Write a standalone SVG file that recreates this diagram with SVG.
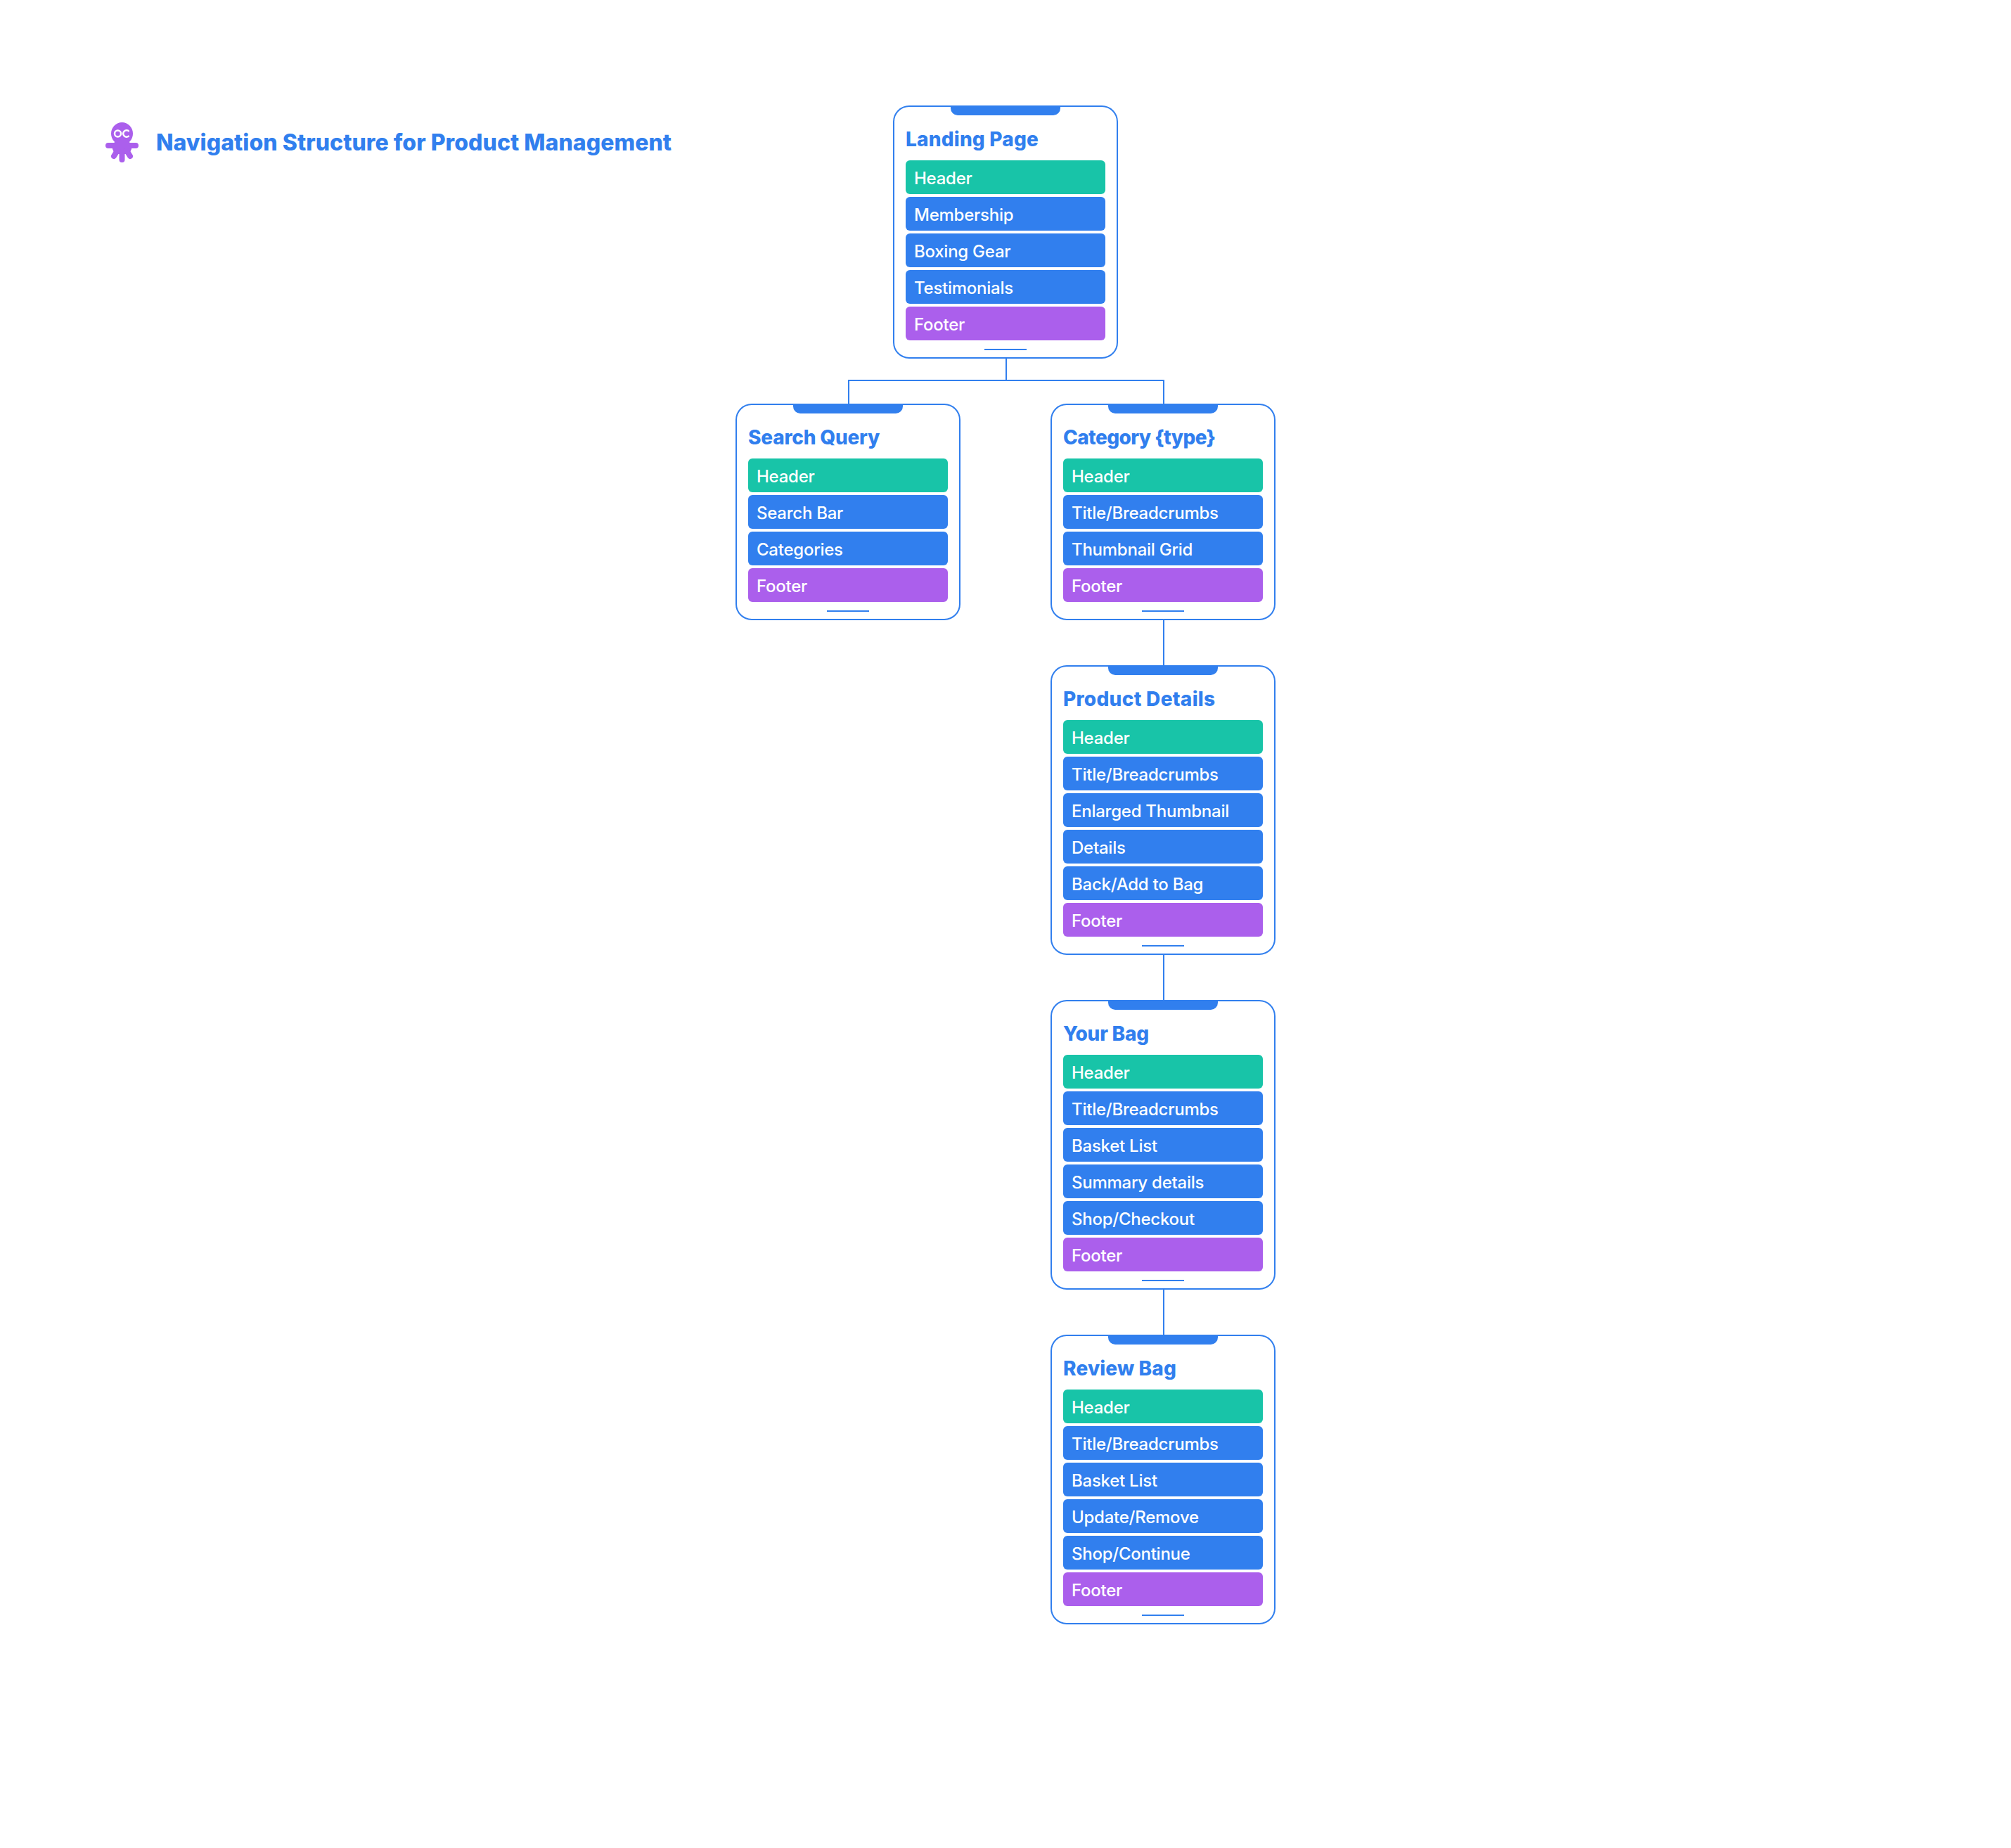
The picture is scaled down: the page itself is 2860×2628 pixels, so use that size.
<svg xmlns="http://www.w3.org/2000/svg" width="2860" height="2628" viewBox="0 0 2860 2628">
<style>
text{font-family:Inter,"Liberation Sans",sans-serif}
.card{fill:#fff;stroke:#317fee;stroke-width:2}
.notch{fill:#317fee}
.bar{stroke:#317fee;stroke-width:2}
.t{font-size:28px;font-weight:800;fill:#317fee}
.l{font-size:24px;font-weight:500;fill:#fff;letter-spacing:-.25px}
.h{fill:#18c4a8}.b{fill:#317fee}.f{fill:#ab5fec}
.conn{fill:none;stroke:#317fee;stroke-width:2}
</style>
<defs>
<path id="n" class="notch" d="M0 0H156V4a10 10 0 0 1-10 10H10A10 10 0 0 1 0 4Z"/>
</defs>
<rect width="2860" height="2628" fill="#fff"/>
<g id="logo">
<ellipse cx="173.500" cy="190" rx="15.500" ry="16" fill="#ab5fec"/>
<path fill="#ab5fec" d="M163 198Q165 203 159 205L160 212Q161 216 165 219H182Q186 216 187 212L188 205Q182 203 184 198Z"/>
<path d="M154 207H193M167 214L162 222M180 214L185 222M173.500 216V227" fill="none" stroke="#ab5fec" stroke-width="8" stroke-linecap="round"/>
<circle cx="167.500" cy="190" r="4.500" fill="none" stroke="#fff" stroke-width="2.500"/>
<path d="M183.500 187a4.700 4.700 0 1 0 0 6" fill="none" stroke="#fff" stroke-width="2.500"/>
</g>
<text id="title" x="222" y="214" font-size="32" font-weight="800" letter-spacing=".05" fill="#317fee">Navigation Structure for Product Management</text>
<g id="connectors">
<path class="conn" d="M1431 509V541M1207 575V541H1655V575"/>
<path class="conn" d="M1655 881V947M1655 1357V1423M1655 1833V1899"/>
</g>
<g id="landing">
<rect class="card" x="1271" y="151" width="318" height="358" rx="22"/>
<use href="#n" x="1352" y="150"/>
<text class="t" x="1288" y="208" letter-spacing=".2">Landing Page</text>
<rect class="h" x="1288" y="228" width="284" height="48" rx="6"/><text class="l" x="1300" y="262">Header</text>
<rect class="b" x="1288" y="280" width="284" height="48" rx="6"/><text class="l" x="1300" y="314">Membership</text>
<rect class="b" x="1288" y="332" width="284" height="48" rx="6"/><text class="l" x="1300" y="366">Boxing Gear</text>
<rect class="b" x="1288" y="384" width="284" height="48" rx="6"/><text class="l" x="1300" y="418">Testimonials</text>
<rect class="f" x="1288" y="436" width="284" height="48" rx="6"/><text class="l" x="1300" y="470">Footer</text>
<line class="bar" x1="1400" x2="1460" y1="497" y2="497"/>
</g>
<g id="search">
<rect class="card" x="1047" y="575" width="318" height="306" rx="22"/>
<use href="#n" x="1128" y="574"/>
<text class="t" x="1064" y="632" letter-spacing="-.2">Search Query</text>
<rect class="h" x="1064" y="652" width="284" height="48" rx="6"/><text class="l" x="1076" y="686">Header</text>
<rect class="b" x="1064" y="704" width="284" height="48" rx="6"/><text class="l" x="1076" y="738">Search Bar</text>
<rect class="b" x="1064" y="756" width="284" height="48" rx="6"/><text class="l" x="1076" y="790">Categories</text>
<rect class="f" x="1064" y="808" width="284" height="48" rx="6"/><text class="l" x="1076" y="842">Footer</text>
<line class="bar" x1="1176" x2="1236" y1="869" y2="869"/>
</g>
<g id="category">
<rect class="card" x="1495" y="575" width="318" height="306" rx="22"/>
<use href="#n" x="1576" y="574"/>
<text class="t" x="1512" y="632" letter-spacing="-.6">Category {type}</text>
<rect class="h" x="1512" y="652" width="284" height="48" rx="6"/><text class="l" x="1524" y="686">Header</text>
<rect class="b" x="1512" y="704" width="284" height="48" rx="6"/><text class="l" x="1524" y="738">Title/Breadcrumbs</text>
<rect class="b" x="1512" y="756" width="284" height="48" rx="6"/><text class="l" x="1524" y="790">Thumbnail Grid</text>
<rect class="f" x="1512" y="808" width="284" height="48" rx="6"/><text class="l" x="1524" y="842">Footer</text>
<line class="bar" x1="1624" x2="1684" y1="869" y2="869"/>
</g>
<g id="product">
<rect class="card" x="1495" y="947" width="318" height="410" rx="22"/>
<use href="#n" x="1576" y="946"/>
<text class="t" x="1512" y="1004" letter-spacing=".3">Product Details</text>
<rect class="h" x="1512" y="1024" width="284" height="48" rx="6"/><text class="l" x="1524" y="1058">Header</text>
<rect class="b" x="1512" y="1076" width="284" height="48" rx="6"/><text class="l" x="1524" y="1110">Title/Breadcrumbs</text>
<rect class="b" x="1512" y="1128" width="284" height="48" rx="6"/><text class="l" x="1524" y="1162">Enlarged Thumbnail</text>
<rect class="b" x="1512" y="1180" width="284" height="48" rx="6"/><text class="l" x="1524" y="1214">Details</text>
<rect class="b" x="1512" y="1232" width="284" height="48" rx="6"/><text class="l" x="1524" y="1266">Back/Add to Bag</text>
<rect class="f" x="1512" y="1284" width="284" height="48" rx="6"/><text class="l" x="1524" y="1318">Footer</text>
<line class="bar" x1="1624" x2="1684" y1="1345" y2="1345"/>
</g>
<g id="bag">
<rect class="card" x="1495" y="1423" width="318" height="410" rx="22"/>
<use href="#n" x="1576" y="1422"/>
<text class="t" x="1512" y="1480" letter-spacing="-.2">Your Bag</text>
<rect class="h" x="1512" y="1500" width="284" height="48" rx="6"/><text class="l" x="1524" y="1534">Header</text>
<rect class="b" x="1512" y="1552" width="284" height="48" rx="6"/><text class="l" x="1524" y="1586">Title/Breadcrumbs</text>
<rect class="b" x="1512" y="1604" width="284" height="48" rx="6"/><text class="l" x="1524" y="1638">Basket List</text>
<rect class="b" x="1512" y="1656" width="284" height="48" rx="6"/><text class="l" x="1524" y="1690">Summary details</text>
<rect class="b" x="1512" y="1708" width="284" height="48" rx="6"/><text class="l" x="1524" y="1742">Shop/Checkout</text>
<rect class="f" x="1512" y="1760" width="284" height="48" rx="6"/><text class="l" x="1524" y="1794">Footer</text>
<line class="bar" x1="1624" x2="1684" y1="1821" y2="1821"/>
</g>
<g id="review">
<rect class="card" x="1495" y="1899" width="318" height="410" rx="22"/>
<use href="#n" x="1576" y="1898"/>
<text class="t" x="1512" y="1956" letter-spacing=".15">Review Bag</text>
<rect class="h" x="1512" y="1976" width="284" height="48" rx="6"/><text class="l" x="1524" y="2010">Header</text>
<rect class="b" x="1512" y="2028" width="284" height="48" rx="6"/><text class="l" x="1524" y="2062">Title/Breadcrumbs</text>
<rect class="b" x="1512" y="2080" width="284" height="48" rx="6"/><text class="l" x="1524" y="2114">Basket List</text>
<rect class="b" x="1512" y="2132" width="284" height="48" rx="6"/><text class="l" x="1524" y="2166">Update/Remove</text>
<rect class="b" x="1512" y="2184" width="284" height="48" rx="6"/><text class="l" x="1524" y="2218">Shop/Continue</text>
<rect class="f" x="1512" y="2236" width="284" height="48" rx="6"/><text class="l" x="1524" y="2270">Footer</text>
<line class="bar" x1="1624" x2="1684" y1="2297" y2="2297"/>
</g>
</svg>
